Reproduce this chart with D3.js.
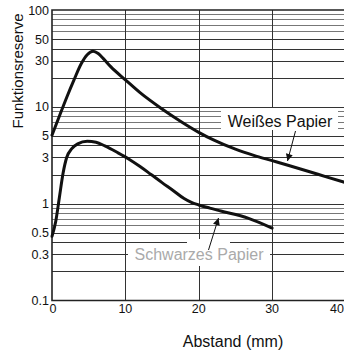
<!DOCTYPE html>
<html>
<head>
<meta charset="utf-8">
<script src="https://cdn.jsdelivr.net/npm/d3@7/dist/d3.min.js"></script>
<style>
html,body{margin:0;padding:0;background:#fff;}
svg{display:block;font-family:"Liberation Sans",Arial,Helvetica,sans-serif;}
</style>
</head>
<body>
<svg id="chart" width="344" height="354"></svg>
<script>
// ---- data ----
const xTicks = [0, 10, 20, 30, 40];
const yTicks = [0.1, 0.3, 0.5, 1, 3, 5, 10, 30, 50, 100];
const yTickLabels = ["0.1", "0.3", "0.5", "1", "3", "5", "10", "30", "50", "100"];
const yGrid = [0.2,0.3,0.4,0.5,0.6,0.7,0.8,0.9,1,2,3,4,5,6,7,8,9,10,20,30,40,50,60,70,80,90];
const xGrid = [10, 20, 30];

const weissX = [0, 1, 2, 3, 4, 4.8, 5.6, 6.3, 7, 8, 10, 12, 15, 17.5, 20, 22, 25, 27.5, 30, 32.5, 35, 37.5, 40];
const weissY = [5.1, 8, 12.5, 19, 28, 34.5, 37.5, 35.5, 31.5, 26, 19, 14, 9.5, 7.1, 5.45, 4.55, 3.65, 3.15, 2.78, 2.45, 2.15, 1.88, 1.65];

const schwarzX = [0, 0.5, 1, 1.5, 2, 2.7, 3.5, 4.8, 6, 7.2, 9, 10.5, 12, 13.5, 15, 16.5, 18, 19, 20, 21.5, 23, 26.7, 30];
const schwarzY = [0.46, 0.65, 1.15, 2.05, 3.0, 3.7, 4.15, 4.4, 4.3, 3.95, 3.35, 2.88, 2.42, 2.0, 1.65, 1.37, 1.13, 1.03, 0.97, 0.9, 0.84, 0.71, 0.56];

const labelWeiss = "Weißes Papier";
const labelSchwarz = "Schwarzes Papier";
const xTitle = "Abstand (mm)";
const yTitle = "Funktionsreserve";

(function () {
// ---- scales ----
const svg = d3.select("#chart");
const x = d3.scaleLinear().domain([0, 40]).range([52, 345.5]);
const y = d3.scaleLog().domain([0.1, 100]).range([300.5, 10]);
const pl = x(0), pr = 344, pt = y(100), pb = y(0.1);

// grid
const g = svg.append("g");
g.selectAll("line.h").data(yGrid).enter().append("line")
  .attr("x1", pl).attr("x2", pr)
  .attr("y1", d => Math.round(y(d)) + 0.5).attr("y2", d => Math.round(y(d)) + 0.5)
  .attr("stroke", d => { const m = Math.round(d / Math.pow(10, Math.floor(Math.log10(d) + 1e-9))); return m >= 6 ? "#777" : "#333"; })
  .attr("stroke-width", 1);
g.selectAll("line.v").data(xGrid).enter().append("line")
  .attr("x1", d => Math.round(x(d)) + 0.5).attr("x2", d => Math.round(x(d)) + 0.5)
  .attr("y1", pt).attr("y2", pb)
  .attr("stroke", "#333").attr("stroke-width", 1);

// white label boxes (break the grid)
svg.append("rect").attr("x", 221).attr("y", 108).attr("width", 117).attr("height", 22).attr("fill", "#fff");
svg.append("rect").attr("x", 128).attr("y", 244).attr("width", 142).attr("height", 22).attr("fill", "#fff");
svg.append("rect").attr("x", 187).attr("y", 239).attr("width", 43).attr("height", 6).attr("fill", "#fff");

// frame
svg.append("path")
  .attr("d", `M${pr + 2},${pt}H${pl}V${pb}H${pr + 2}`)
  .attr("fill", "none").attr("stroke", "#222").attr("stroke-width", 1.6);

// curves
const line = d3.line().x(d => x(d[0])).y(d => y(d[1])).curve(d3.curveMonotoneX);
svg.append("path").datum(d3.zip(weissX, weissY)).attr("d", line)
  .attr("fill", "none").attr("stroke", "#111").attr("stroke-width", 3).attr("stroke-linecap", "round");
svg.append("path").datum(d3.zip(schwarzX, schwarzY)).attr("d", line)
  .attr("fill", "none").attr("stroke", "#111").attr("stroke-width", 3).attr("stroke-linecap", "round");

// arrows
svg.append("defs").append("marker").attr("id", "ah")
  .attr("viewBox", "0 0 10 10").attr("refX", 10).attr("refY", 5)
  .attr("markerWidth", 9).attr("markerHeight", 7).attr("markerUnits", "userSpaceOnUse")
  .attr("orient", "auto")
  .append("path").attr("d", "M0,0L10,5L0,10Z").attr("fill", "#111");
svg.append("line").attr("x1", 295.5).attr("y1", 131).attr("x2", 287.5).attr("y2", 161)
  .attr("stroke", "#111").attr("stroke-width", 1).attr("marker-end", "url(#ah)");
svg.append("line").attr("x1", 208.5).attr("y1", 250).attr("x2", 218.5).attr("y2", 218)
  .attr("stroke", "#111").attr("stroke-width", 1).attr("marker-end", "url(#ah)");

// labels
svg.append("text").attr("x", 280).attr("y", 126.5).attr("text-anchor", "middle")
  .attr("font-size", 16).attr("fill", "#111").text(labelWeiss);
svg.append("text").attr("x", 199).attr("y", 260).attr("text-anchor", "middle")
  .attr("font-size", 16).attr("fill", "#aaa").text(labelSchwarz);

// tick labels
svg.selectAll("text.yt").data(yTicks).enter().append("text")
  .attr("x", 49).attr("y", d => y(d)).attr("dy", "0.36em")
  .attr("text-anchor", "end").attr("font-size", 12.5).attr("fill", "#111")
  .text((d, i) => yTickLabels[i]);
svg.selectAll("text.xt").data(xTicks).enter().append("text")
  .attr("x", d => d === 40 ? 344 : x(d) + (d === 0 ? 1 : 0)).attr("y", 312.5)
  .attr("text-anchor", d => d === 40 ? "end" : "middle").attr("font-size", 12.5).attr("fill", "#111")
  .text(d => d);

// axis titles
svg.append("text").attr("x", 233).attr("y", 347).attr("text-anchor", "middle")
  .attr("font-size", 16).attr("fill", "#111").text(xTitle);
svg.append("text").attr("transform", "translate(22.5,71) rotate(-90)")
  .attr("text-anchor", "middle").attr("font-size", 15).attr("fill", "#111").text(yTitle);
})();
</script>
</body>
</html>
